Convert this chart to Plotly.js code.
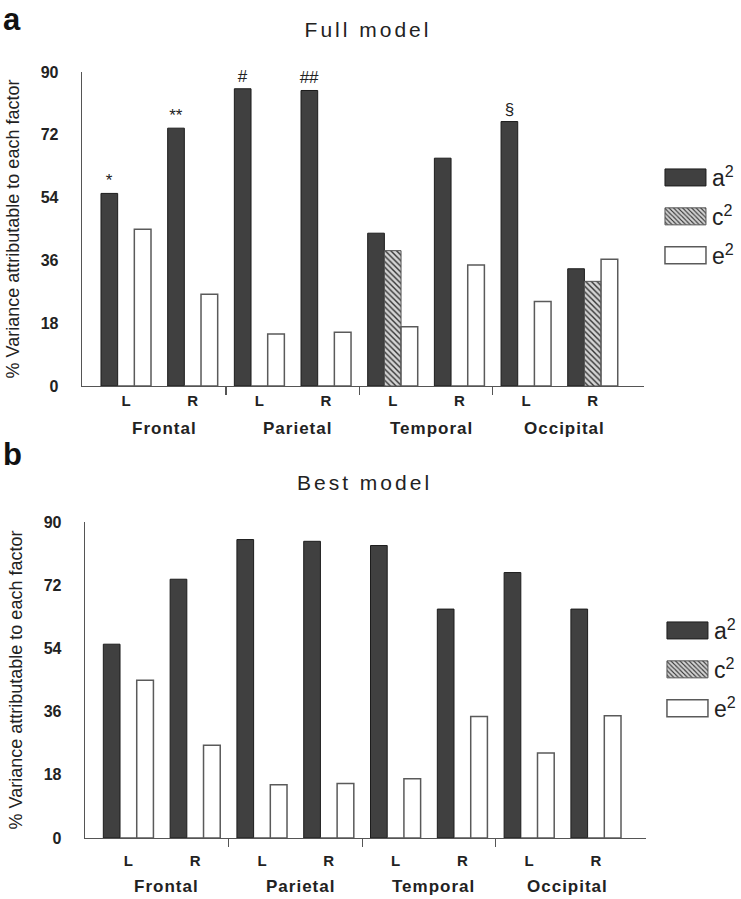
<!DOCTYPE html>
<html><head><meta charset="utf-8">
<script src="https://cdn.plot.ly/plotly-3.0.1.min.js"></script>
<style>
html,body{margin:0;padding:0;background:#fff;}
#chart{width:741px;height:899px;}
.gtitle{letter-spacing:3px;}
.annotation-text{letter-spacing:1px;}
g.annotation[data-index="0"] text{letter-spacing:3px;}
</style></head><body><div id="chart"></div>
<script>
const regions = ['Frontal','Parietal','Temporal','Occipital'];
const sides = ['L','R'];
const factorNames = ['a<sup>2</sup>','c<sup>2</sup>','e<sup>2</sup>'];

// Panel a: Full model (% variance, order: Frontal L,R, Parietal L,R, Temporal L,R, Occipital L,R)
const fullA2 = [55.2, 73.9, 85.2, 84.7, 43.8, 65.3, 75.8, 33.6];
const fullC2 = [0, 0, 0, 0, 38.8, 0, 0, 30.0];
const fullE2 = [44.9, 26.3, 14.9, 15.4, 17.0, 34.7, 24.2, 36.3];
const fullMarks = ['*', '**', '#', '##', '', '', '§', ''];

// Panel b: Best model
const bestA2 = [55.2, 73.7, 85.0, 84.5, 83.3, 65.2, 75.6, 65.2];
const bestC2 = [0, 0, 0, 0, 0, 0, 0, 0];
const bestE2 = [44.9, 26.4, 15.2, 15.5, 16.9, 34.6, 24.2, 34.8];

const yTicks = [0, 18, 36, 54, 72, 90];

const catLabels = regions.flatMap(() => sides);
const xIdx = catLabels.map((_, i) => i);
const boundaries = regions.slice(1).map((_, i) => 2 * i + 1.5);
const regionCenters = regions.map((_, i) => 2 * i + 0.5);

const FONT = 'Liberation Sans, Arial, sans-serif';

function makeTraces(a, c, e, xa, ya, legendId, marks, grp) {
  return [
    {type: 'bar', x: xIdx, y: a, name: factorNames[0], xaxis: xa, yaxis: ya,
     legend: legendId, legendgroup: grp + 'a',
     marker: {color: '#404040', line: {color: '#1c1c1c', width: 1}},
     text: marks, textposition: marks ? 'outside' : 'none', constraintext: 'none',
     cliponaxis: false, textfont: {size: 17, color: '#222', family: FONT}},
    {type: 'bar', x: xIdx, y: c, name: factorNames[1], xaxis: xa, yaxis: ya,
     legend: legendId, legendgroup: grp + 'c',
     marker: {color: '#d4d4d4', line: {color: '#555', width: 1},
              pattern: {shape: '\\', fgcolor: '#333', bgcolor: '#d4d4d4', size: 4, solidity: 0.35}}},
    {type: 'bar', x: xIdx, y: e, name: factorNames[2], xaxis: xa, yaxis: ya,
     legend: legendId, legendgroup: grp + 'e',
     marker: {color: '#ffffff', line: {color: '#5a5a5a', width: 1.5}}}
  ];
}

const data = [
  ...makeTraces(fullA2, fullC2, fullE2, 'x', 'y', 'legend', fullMarks, 'full'),
  ...makeTraces(bestA2, bestC2, bestE2, 'x2', 'y2', 'legend2', null, 'best')
];

function xAxis(domain, range, anchor, standoff) {
  return {domain: domain, range: range, anchor: anchor,
    tickvals: xIdx, ticktext: catLabels, ticks: '', ticklabelstandoff: standoff,
    showline: true, linecolor: '#555', linewidth: 1.3, showgrid: false, zeroline: false,
    tickfont: {size: 15, weight: 'bold', family: FONT, color: '#222'},
    minor: {tickvals: boundaries, ticks: 'outside', ticklen: 8, tickcolor: '#555', tickwidth: 1.2, showgrid: false},
    fixedrange: true};
}
function yAxis(domain, anchor) {
  return {domain: domain, range: [0, 90], anchor: anchor, tickvals: yTicks,
    ticks: '', ticklabelstandoff: 19, showline: true, linecolor: '#555', linewidth: 1.3,
    showgrid: false, zeroline: false,
    tickfont: {size: 16, weight: 'bold', family: FONT, color: '#222'},
    title: {text: '% Variance attributable to each factor', font: {size: 18, family: FONT, color: '#222'}, standoff: 16},
    fixedrange: true};
}

const ann = [
  {text: 'Best model', xref: 'paper', yref: 'paper', x: 369 / 741, y: 1 - 482 / 899,
   xanchor: 'center', yanchor: 'middle', showarrow: false, font: {size: 21, family: FONT, color: '#222'}},
  {text: '<b>a</b>', xref: 'paper', yref: 'paper', x: 1 / 741, y: 1,
   xanchor: 'left', yanchor: 'top', showarrow: false, font: {size: 31, family: FONT, color: '#111'}},
  {text: '<b>b</b>', xref: 'paper', yref: 'paper', x: 1 / 741, y: 1 - 454 / 899,
   xanchor: 'left', yanchor: 'middle', showarrow: false, font: {size: 31, family: FONT, color: '#111'}}
];
regions.forEach((r, i) => {
  ann.push({text: '<b>' + r + '</b>', xref: 'x', yref: 'paper', x: regionCenters[i], y: 1 - 429 / 899,
    xanchor: 'center', yanchor: 'middle', xshift: 5, showarrow: false, font: {size: 17, family: FONT, color: '#222'}});
  ann.push({text: '<b>' + r + '</b>', xref: 'x2', yref: 'paper', x: regionCenters[i], y: 1 - 886 / 899,
    xanchor: 'center', yanchor: 'middle', xshift: 5, showarrow: false, font: {size: 17, family: FONT, color: '#222'}});
});

const legendBase = {xanchor: 'left', yanchor: 'top', font: {size: 23, family: FONT, color: '#222'},
  itemwidth: 50, traceorder: 'grouped', tracegroupgap: 6, bgcolor: 'rgba(0,0,0,0)', borderwidth: 0};

const layout = {
  width: 741, height: 899, margin: {l: 0, r: 0, t: 0, b: 0},
  paper_bgcolor: '#fff', plot_bgcolor: '#fff',
  barmode: 'group', bargap: 0.25, bargroupgap: 0,
  font: {family: FONT, color: '#222'},
  title: {text: 'Full model', x: 368 / 741, xanchor: 'center', y: 1 - 30 / 899, yanchor: 'middle',
          font: {size: 21, family: FONT, color: '#222'}},
  xaxis: xAxis([83 / 741, 652 / 741], [-0.66, 7.77], 'y', 1),
  yaxis: yAxis([1 - 386 / 899, 1 - 72 / 899], 'x'),
  xaxis2: xAxis([86 / 741, 654 / 741], [-0.65, 7.75], 'y2', 9),
  yaxis2: yAxis([1 - 838 / 899, 1 - 522 / 899], 'x2'),
  legend: Object.assign({}, legendBase, {x: 660 / 741, y: 1 - 156 / 899}),
  legend2: Object.assign({}, legendBase, {x: 662 / 741, y: 1 - 609 / 899}),
  annotations: ann,
  showlegend: true
};

Plotly.newPlot('chart', data, layout, {staticPlot: true, displayModeBar: false}).then(function (gd) {
  gd.querySelectorAll('.legendpoints path').forEach(function (p) {
    p.setAttribute('d', 'M24,8.5H-17V-8.5H24Z');
  });
});
</script>
</body></html>
